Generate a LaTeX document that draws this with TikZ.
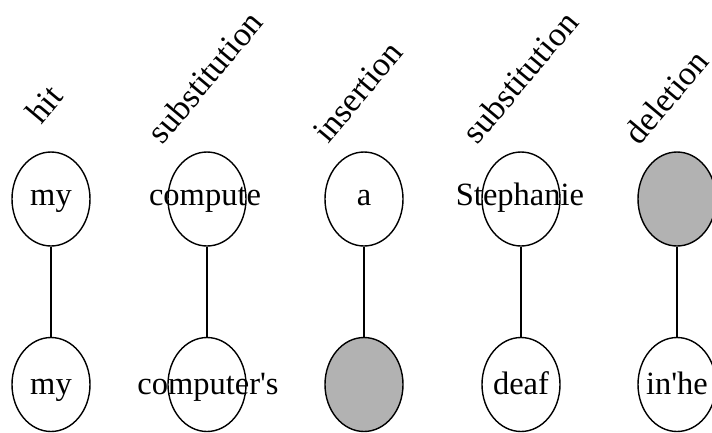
\documentclass[tikz,border=0pt]{standalone}
\usepackage{fontspec}
\setmainfont{Liberation Serif}[Ligatures=TeXOff]
\usetikzlibrary{shapes.geometric}
\definecolor{tokgray}{RGB}{178,178,178}
\tikzset{
  tok/.style={draw=black, line width=1.4pt, ellipse, minimum width=78pt, minimum height=94pt, inner sep=0pt},
  gaptok/.style={tok, fill=tokgray},
  word/.style={font=\fontsize{32.5}{36}\selectfont, inner sep=0pt, anchor=base},
  lab/.style={font=\fontsize{34}{38}\selectfont, inner sep=0pt, rotate=50},
  link/.style={line width=1.4pt}
}
\begin{document}
\begin{tikzpicture}[x=1pt,y=-1pt]
\useasboundingbox (0,0) rectangle (712,432);
% top row
\node[tok]    (t1) at (51,199) {};
\node[tok]    (t2) at (207,199) {};
\node[tok]    (t3) at (364,199) {};
\node[tok]    (t4) at (521,199) {};
\node[gaptok] (t5) at (677,199) {};
% bottom row
\node[tok]    (b1) at (51,384.5) {};
\node[tok]    (b2) at (207,384.5) {};
\node[gaptok] (b3) at (364,384.5) {};
\node[tok]    (b4) at (521,384.5) {};
\node[tok]    (b5) at (677,384.5) {};
% links
\draw[link] (t1.south) -- (b1.north);
\draw[link] (t2.south) -- (b2.north);
\draw[link] (t3.south) -- (b3.north);
\draw[link] (t4.south) -- (b4.north);
\draw[link] (t5.south) -- (b5.north);
% words
\node[word] (w1) at (51,205) {my};
\node[word] (w2) at (205,205) {compute};
\node[word] (w3) at (364,205) {a};
\node[word] (w4) at (520,205) {Stephanie};
\node[word] (v1) at (51,394) {my};
\node[word] (v2) at (208,394) {computer's};
\node[word] (v4) at (521,394) {deaf};
\node[word] (v5) at (677,394) {in'he};
% labels
\node[lab] (l1) at (44,104) {hit};
\node[lab] (l2) at (205,77) {substitution};
\node[lab] (l3) at (358,92) {insertion};
\node[lab] (l4) at (520,77) {substitution};
\node[lab] (l5) at (666,97) {deletion};
\end{tikzpicture}
\end{document}
